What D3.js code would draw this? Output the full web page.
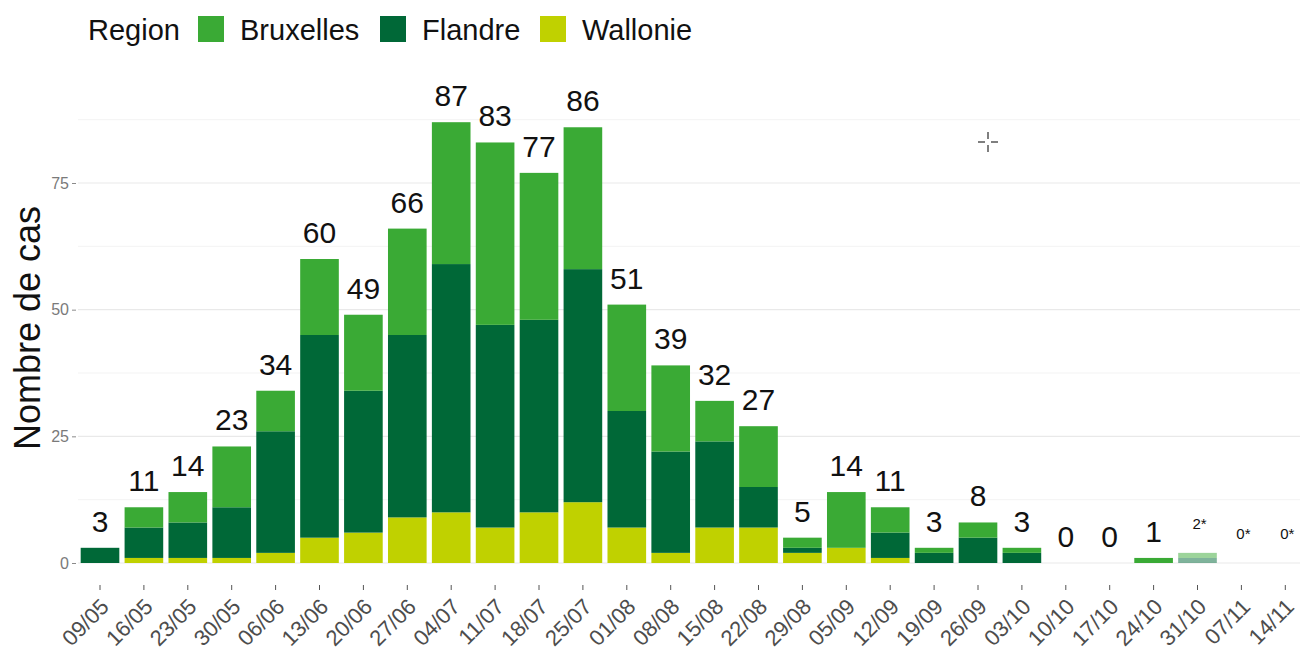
<!DOCTYPE html>
<html>
<head>
<meta charset="utf-8">
<script src="https://cdn.jsdelivr.net/npm/d3@7"></script>
<style>
  body { margin: 0; background: #fff; }
  svg { display: block; font-family: "Liberation Sans", Arial, sans-serif; }
</style>
</head>
<body>
<svg id="chart" width="1300" height="655"></svg>
<script>
// weeks (start date)
const weeks = ["09/05","16/05","23/05","30/05","06/06","13/06","20/06","27/06","04/07","11/07",
  "18/07","25/07","01/08","08/08","15/08","22/08","29/08","05/09","12/09","19/09",
  "26/09","03/10","10/10","17/10","24/10","31/10","07/11","14/11"];
const wallonie  = [0,1,1,1,2,5,6,9,10,7,10,12,7,2,7,7,2,3,1,0,0,0,0,0,0,0,0,0];
const flandre   = [3,6,7,10,24,40,28,36,49,40,38,46,23,20,17,8,1,0,5,2,5,2,0,0,0,1,0,0];
const bruxelles = [0,4,6,12,8,15,15,21,28,36,29,28,21,17,8,12,2,11,5,1,3,1,0,0,1,1,0,0];
// weeks whose figures are still provisional (shown faded, label with *)
const provisional = ["31/10","07/11","14/11"];
const regions = ["Wallonie","Flandre","Bruxelles"];
const legendOrder = ["Bruxelles","Flandre","Wallonie"];
const yTicks = [0,25,50,75];

const colors = { Bruxelles: "#3aaa35", Flandre: "#006837", Wallonie: "#c0d100" };

const rows = weeks.map((w, i) => ({ week: w, Wallonie: wallonie[i], Flandre: flandre[i], Bruxelles: bruxelles[i] }));
const series = d3.stack().keys(regions)(rows);

const svg = d3.select("#chart");
const step = 43.9;
const x = d3.scaleBand().domain(weeks)
    .range([100 - step / 2, 100 + (weeks.length - 0.5) * step])
    .paddingInner(0.12).paddingOuter(0.06);
const y = d3.scaleLinear().domain([0, 75]).range([563, 183]);
const panelLeft = 78, panelRight = 1300;

// grid
const minor = d3.range(12.5, 90, 25);
svg.append("g").selectAll("line").data(minor).join("line")
    .attr("x1", panelLeft).attr("x2", panelRight)
    .attr("y1", d => y(d)).attr("y2", d => y(d))
    .attr("stroke", "#f3f3f3").attr("stroke-width", 1);
svg.append("g").selectAll("line").data(yTicks).join("line")
    .attr("x1", panelLeft).attr("x2", panelRight)
    .attr("y1", d => y(d)).attr("y2", d => y(d))
    .attr("stroke", "#e9e9e9").attr("stroke-width", 1.2);

// y axis labels + ticks
const yAxis = svg.append("g").attr("transform", `translate(${panelLeft - 2},0)`)
    .call(d3.axisLeft(y).tickValues(yTicks).tickSize(4).tickPadding(3));
yAxis.select(".domain").remove();
yAxis.selectAll("line").attr("stroke", "#8a8a8a");
yAxis.selectAll("text").attr("fill", "#7a7a7a").style("font-size", "16px")
    .style("font-family", "Liberation Sans, Arial, sans-serif");

// bars
svg.append("g").selectAll("g").data(series).join("g")
    .attr("fill", d => colors[d.key])
    .selectAll("rect").data(d => d.filter(s => s[1] > s[0]))
    .join("rect")
    .attr("x", d => x(d.data.week))
    .attr("width", x.bandwidth())
    .attr("y", d => y(d[1]))
    .attr("height", d => y(d[0]) - y(d[1]))
    .attr("fill-opacity", d => provisional.includes(d.data.week) ? 0.5 : 1);

// totals
const totals = rows.map(r => ({ week: r.week, total: r.Wallonie + r.Flandre + r.Bruxelles }));
const labels = svg.append("g").attr("text-anchor", "middle").attr("fill", "#111");
labels.selectAll("text.big").data(totals.filter(d => !provisional.includes(d.week))).join("text")
    .attr("class", "big")
    .attr("x", d => x(d.week) + x.bandwidth() / 2)
    .attr("y", d => y(d.total) - 16)
    .style("font-size", "30px")
    .text(d => d.total);
labels.selectAll("text.small").data(totals.filter(d => provisional.includes(d.week))).join("text")
    .attr("class", "small")
    .attr("x", d => x(d.week) + x.bandwidth() / 2 + 2)
    .attr("y", d => y(d.total) - 24)
    .style("font-size", "15px")
    .text(d => d.total + "*");

// x axis ticks and rotated labels
const xg = svg.append("g");
xg.selectAll("line").data(weeks).join("line")
    .attr("x1", d => x(d) + x.bandwidth() / 2).attr("x2", d => x(d) + x.bandwidth() / 2)
    .attr("y1", 585).attr("y2", 590)
    .attr("stroke", "#555").attr("stroke-width", 1);
xg.selectAll("text").data(weeks).join("text")
    .attr("transform", d => `translate(${x(d) + x.bandwidth() / 2 - 1},${597}) rotate(-45)`)
    .attr("text-anchor", "end")
    .attr("dy", "0.72em")
    .attr("fill", "#4d4d4d")
    .style("font-size", "22px")
    .text(d => d);

// y title
svg.append("text")
    .attr("transform", "translate(40,328) rotate(-90)")
    .attr("text-anchor", "middle")
    .attr("fill", "#111")
    .style("font-size", "36px")
    .text("Nombre de cas");

// legend
const legend = svg.append("g");
legend.append("text").attr("x", 88).attr("y", 40).style("font-size", "29px").attr("fill", "#111").text("Region");
const legX = { Bruxelles: 198, Flandre: 380, Wallonie: 540 };
const leg = legend.selectAll("g.item").data(legendOrder).join("g").attr("class", "item")
    .attr("transform", d => `translate(${legX[d]},16)`);
leg.append("rect").attr("width", 26).attr("height", 26).attr("fill", d => colors[d]);
leg.append("text").attr("x", 42).attr("y", 24).style("font-size", "29px").attr("fill", "#111").text(d => d);

// cursor crosshair visible in the screenshot
const cur = svg.append("g").attr("stroke", "#555").attr("stroke-width", 1.5);
[[978,142,985,142],[991,142,998,142],[988,132,988,139],[988,145,988,152]].forEach(l =>
    cur.append("line").attr("x1", l[0]).attr("y1", l[1]).attr("x2", l[2]).attr("y2", l[3]));
</script>
</body>
</html>
